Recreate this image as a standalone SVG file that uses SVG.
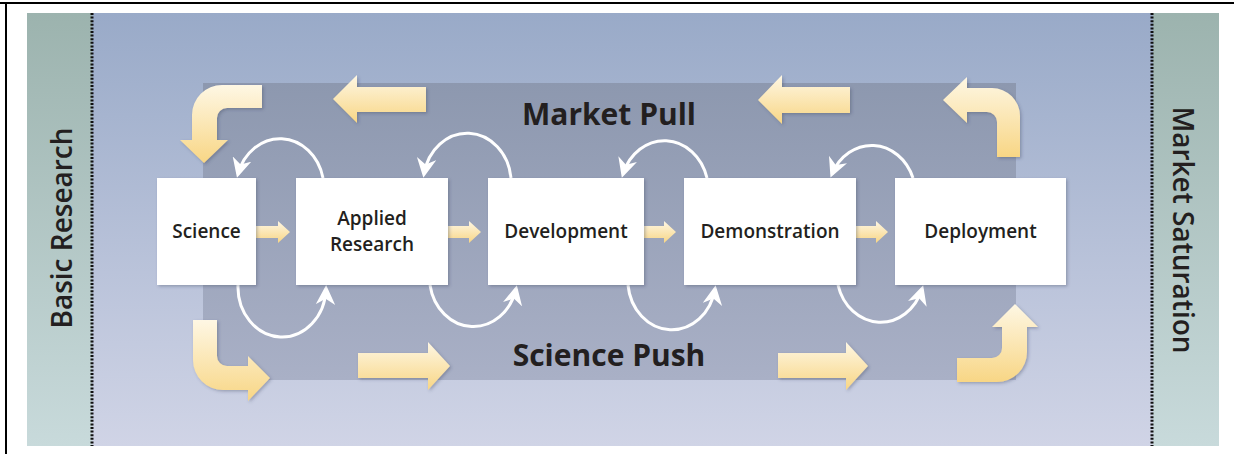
<svg xmlns="http://www.w3.org/2000/svg" width="1234" height="454" viewBox="0 0 1234 454">
<defs>
<linearGradient id="bgMid" x1="0" y1="0" x2="0" y2="1">
<stop offset="0" stop-color="#99aac8"/>
<stop offset="1" stop-color="#d0d4e6"/>
</linearGradient>
<linearGradient id="bgSide" x1="0" y1="0" x2="0" y2="1">
<stop offset="0" stop-color="#9cb3ae"/>
<stop offset="1" stop-color="#c8dadb"/>
</linearGradient>
<linearGradient id="dark" x1="0" y1="0" x2="0" y2="1">
<stop offset="0" stop-color="#8d98af"/>
<stop offset="1" stop-color="#a9b0c6"/>
</linearGradient>
<linearGradient id="gold" x1="0" y1="0" x2="0" y2="1">
<stop offset="0" stop-color="#fef7e4"/>
<stop offset="1" stop-color="#f8d685"/>
</linearGradient>
<filter id="sh" x="-20%" y="-20%" width="140%" height="140%">
<feDropShadow dx="1.5" dy="1.5" stdDeviation="1.5" flood-color="#3a4460" flood-opacity="0.35"/>
</filter>
<marker id="wh" viewBox="0 0 10 10" refX="8" refY="5" markerWidth="6.5" markerHeight="6.5" orient="auto" markerUnits="strokeWidth">
<path d="M0,0 L10,5 L0,10 L3,5 Z" fill="#ffffff"/>
</marker>
<style>
.big{fill:url(#gold);filter:url(#sh)}
.small{fill:url(#gold)}
.box{fill:#ffffff;filter:url(#sh)}
.loop{fill:none;stroke:#ffffff;stroke-width:3;marker-end:url(#wh)}
.lbl{font-family:"Open Sans","Liberation Sans",sans-serif;font-weight:600;font-size:19px;fill:#231f20;text-anchor:middle}
.head{font-family:"Open Sans","Liberation Sans",sans-serif;font-weight:700;font-size:30px;fill:#231f20;text-anchor:middle}
.side{font-family:"Open Sans","Liberation Sans",sans-serif;font-weight:600;font-size:28px;fill:#231f20;text-anchor:middle}
.dot{stroke:#111111;stroke-width:3;stroke-dasharray:2 1.6}
</style>
</defs>

<g id="background">
<rect x="0" y="0" width="1234" height="454" fill="#ffffff"/>
<rect x="27" y="13" width="1192" height="433" fill="url(#bgMid)"/>
<rect x="27" y="13" width="65" height="433" fill="url(#bgSide)"/>
<rect x="1153" y="13" width="66" height="433" fill="url(#bgSide)"/>
<line class="dot" x1="92" y1="13" x2="92" y2="446"/>
<line class="dot" x1="1152" y1="13" x2="1152" y2="446"/>
<rect x="203" y="83" width="813" height="297" fill="url(#dark)"/>
<line x1="0" y1="3" x2="1234" y2="3" stroke="#000" stroke-width="2"/>
<line x1="6" y1="3" x2="6" y2="454" stroke="#000" stroke-width="2"/>
</g>

<g id="side-labels">
<text class="side" transform="translate(72,228) rotate(-90)">Basic Research</text>
<text class="side" transform="translate(1173,230) rotate(90)">Market Saturation</text>
</g>

<g id="titles">
<text class="head" x="609" y="125">Market Pull</text>
<text class="head" x="609" y="366">Science Push</text>
</g>

<g id="big-arrows">
<path class="big" d="M262,85 L222,85 A30,30 0 0 0 192,115 L192,140 L180,140 L204,163 L228,140 L217,140 L217,118 A10,10 0 0 1 227,108 L262,108 Z"/>
<path class="big" d="M426,87 L357,87 L357,75 L333,99 L357,123 L357,112 L426,112 Z"/>
<path class="big" d="M850,87 L782,87 L782,75 L758,100 L782,124 L782,113 L850,113 Z"/>
<path class="big" d="M1020,157 L997,157 L997,122 A10,10 0 0 0 987,112 L967,112 L967,123 L943,100 L967,77 L967,88 L992,88 A28,28 0 0 1 1020,116 Z"/>
<path class="big" d="M193,320 L217,320 L217,356 A10,10 0 0 0 227,366 L248,366 L248,356 L270,378 L248,401 L248,390 L223,390 A30,30 0 0 1 193,360 Z"/>
<path class="big" d="M358,353 L428,353 L428,342 L450,366 L428,390 L428,378 L358,378 Z"/>
<path class="big" d="M778,353 L846,353 L846,342 L868,366 L846,390 L846,378 L778,378 Z"/>
<path class="big" d="M957,358 L992,358 A10,10 0 0 0 1002,348 L1002,327 L992,327 L1015,304 L1038,327 L1027,327 L1027,352 A30,30 0 0 1 997,382 L957,382 Z"/>
</g>

<g id="connectors">
<path class="loop" d="M323,178 A44,50 0 0 0 238,174"/>
<path class="loop" d="M511,178 A44,50 0 0 0 424,174"/>
<path class="loop" d="M707,178 A44,50 0 0 0 623,174"/>
<path class="loop" d="M913,178 A44,50 0 0 0 832,174"/>
<path class="loop" d="M238,285 A44,50 0 0 0 326,289"/>
<path class="loop" d="M430,285 A44,50 0 0 0 516,289"/>
<path class="loop" d="M628,285 A44,50 0 0 0 715,289"/>
<path class="loop" d="M838,285 A44,50 0 0 0 922,289"/>
<path class="small" d="M256,226 L278,226 L278,221 L290,232 L278,243 L278,238 L256,238 Z"/>
<path class="small" d="M448,226 L469,226 L469,221 L481,232 L469,243 L469,238 L448,238 Z"/>
<path class="small" d="M644,226 L664,226 L664,221 L676,232 L664,243 L664,238 L644,238 Z"/>
<path class="small" d="M856,226 L876,226 L876,221 L888,232 L876,243 L876,238 L856,238 Z"/>
</g>

<g id="node-science">
<rect class="box" x="157" y="178" width="99" height="107"/>
<text class="lbl" x="206.5" y="238">Science</text>
</g>
<g id="node-applied-research">
<rect class="box" x="296" y="178" width="152" height="107"/>
<text class="lbl" x="372" y="225">Applied</text>
<text class="lbl" x="372" y="251">Research</text>
</g>
<g id="node-development">
<rect class="box" x="488" y="178" width="156" height="107"/>
<text class="lbl" x="566" y="238">Development</text>
</g>
<g id="node-demonstration">
<rect class="box" x="684" y="178" width="172" height="107"/>
<text class="lbl" x="770" y="238">Demonstration</text>
</g>
<g id="node-deployment">
<rect class="box" x="895" y="178" width="171" height="107"/>
<text class="lbl" x="980.5" y="238">Deployment</text>
</g>
</svg>
